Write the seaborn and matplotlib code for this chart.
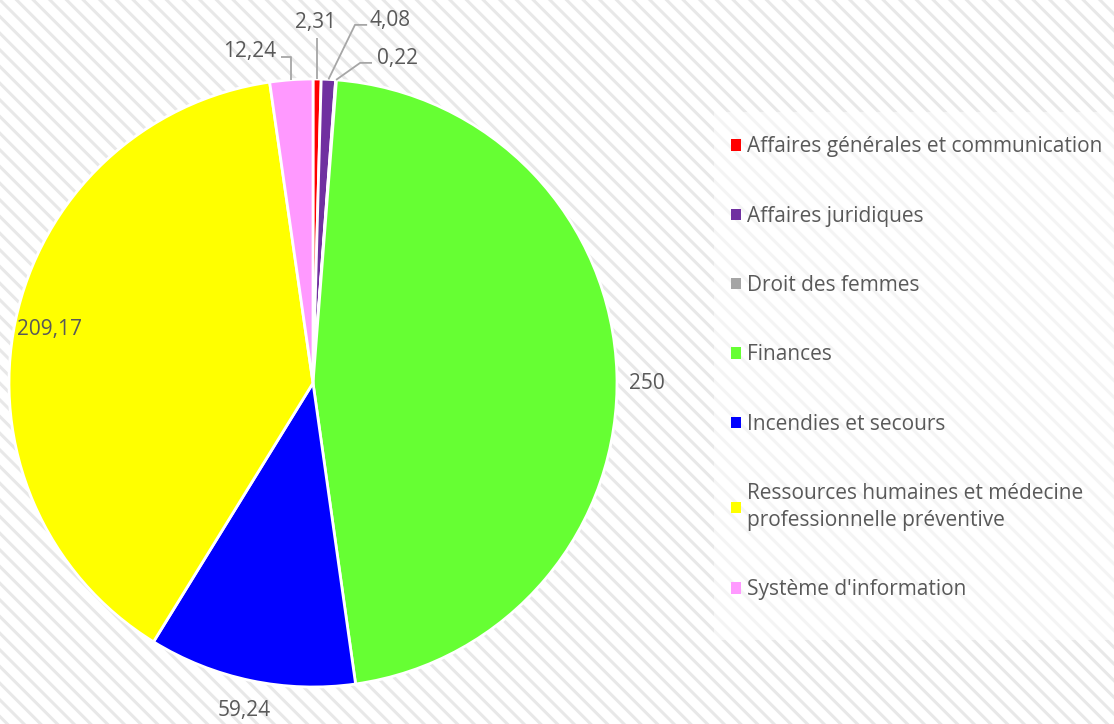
import numpy as np
import matplotlib
matplotlib.use('Agg')
import matplotlib.pyplot as plt
from matplotlib.patches import Rectangle
import seaborn as sns

# ---------------------------------------------------------------------
# data
# ---------------------------------------------------------------------
categories = [
    "Affaires générales et communication",
    "Affaires juridiques",
    "Droit des femmes",
    "Finances",
    "Incendies et secours",
    "Ressources humaines et médecine\nprofessionnelle préventive",
    "Système d'information",
]
values = [2.31, 4.08, 0.22, 250, 59.24, 209.17, 12.24]
colors = ["#FF0000", "#7030A0", "#A5A5A5", "#66FF33", "#0000FF", "#FFFF00", "#FF99FF"]

sns.set_theme(style="white")
plt.rcParams['font.family'] = ['Open Sans', 'DejaVu Sans']
plt.rcParams['hatch.color'] = '#E8E8E8'
plt.rcParams['hatch.linewidth'] = 2.2

TXT = '#595959'
LEAD = '#A6A6A6'
FS = 15
W, H = 1114, 724

fig = plt.figure(figsize=(W / 100, H / 100), dpi=100)

# hatched background + lighter legend area
bg = Rectangle((0, 0), 1, 1, transform=fig.transFigure, facecolor='white',
               edgecolor='#E8E8E8', hatch='\\\\', linewidth=0, zorder=-10)
fig.patches.append(bg)
leg_bg = Rectangle((714 / W, 1 - 640 / H), 400 / W, 528 / H, transform=fig.transFigure,
                   facecolor='white', alpha=0.55, linewidth=0, zorder=-9)
fig.patches.append(leg_bg)

# pie axes: centre (313, 383) px, radius 304 px
cx, cy, r = 313, 383, 304
ax = fig.add_axes([(cx - r) / W, (H - cy - r) / H, 2 * r / W, 2 * r / H])
ax.set_facecolor('none')
wedges, _ = ax.pie(values, colors=colors, startangle=90, counterclock=False,
                   wedgeprops=dict(edgecolor='white', linewidth=2))
ax.set_xlim(-1, 1)
ax.set_ylim(-1, 1)
ax.axis('off')


def fmt(v):
    return f"{v:g}".replace('.', ',')


# label placement: either radial distance (+ small vertical nudge), or a leader
# line (elbow point, line end, text point, alignment) in axes data units
plain = {3: (1.10, -0.035), 4: (1.105, 0.005), 5: (0.885, -0.005)}
leaders = {
    0: (None, (None, 1.135), (0.007, 1.186), 'center', 'center'),
    1: ((0.138, 1.178), (0.178, 1.178), (0.186, 1.194), 'left', 'center'),
    2: ((0.155, 1.053), (0.194, 1.053), (0.210, 1.069), 'left', 'center'),
    6: ((None, 1.072), (-0.105, 1.072), (-0.122, 1.089), 'right', 'center'),
}

for i, w in enumerate(wedges):
    ang = np.deg2rad((w.theta1 + w.theta2) / 2)
    ux, uy = np.cos(ang), np.sin(ang)
    lab = fmt(values[i])
    if i in plain:
        d, dy = plain[i]
        ax.text(d * ux, d * uy + dy, lab, ha='center', va='center', fontsize=FS, color=TXT)
        continue
    elbow, end, tpos, ha, va = leaders[i]
    x0, y0 = ux, uy
    if elbow is None:
        xs, ys = [x0, x0], [y0, end[1]]
    else:
        ex = x0 if elbow[0] is None else elbow[0]
        xs, ys = [x0, ex, end[0]], [y0, elbow[1], end[1]]
    ax.plot(xs, ys, color=LEAD, lw=1.3, clip_on=False, solid_capstyle='butt')
    ax.text(tpos[0], tpos[1], lab, ha=ha, va=va, fontsize=FS, color=TXT, clip_on=False)

leg = fig.legend(wedges, categories, loc='upper left',
                 bbox_to_anchor=(721 / W, 1 - 126 / H), frameon=False,
                 fontsize=FS, labelcolor=TXT, handlelength=0.45, handleheight=0.45,
                 handletextpad=0.3, labelspacing=2.32, borderpad=0)
for h in leg.legend_handles:
    h.set_edgecolor('none')
for t in leg.get_texts():
    t.set_linespacing(1.38)

fig.savefig('out.png', dpi=100, facecolor='white')
